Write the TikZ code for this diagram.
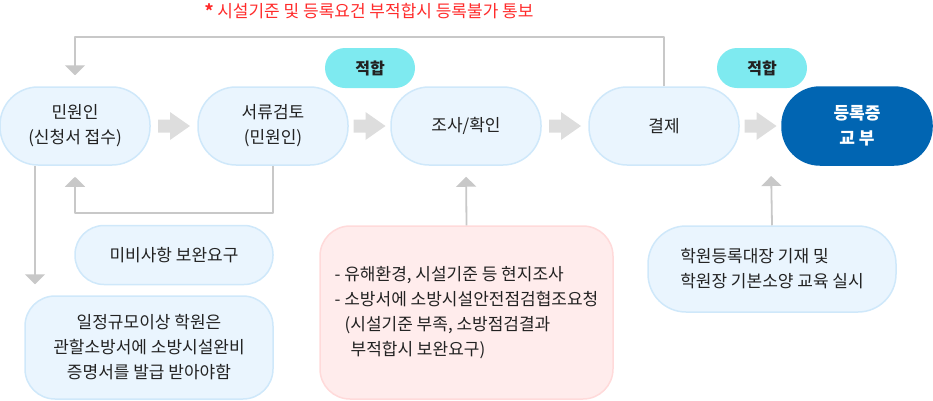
\documentclass[tikz,border=0pt]{standalone}
\usepackage{fontspec}
\setmainfont{Noto Sans CJK KR}
\usetikzlibrary{arrows.meta,calc}
\definecolor{pillfill}{HTML}{EAF5FE}
\definecolor{pillline}{HTML}{CFE8FA}
\definecolor{pinkfill}{HTML}{FFECEC}
\definecolor{pinkline}{HTML}{FFDADA}
\definecolor{fitfill}{HTML}{7EEAF0}
\definecolor{donefill}{HTML}{0165B2}
\definecolor{fbline}{HTML}{C8C8C8}
\definecolor{blockgray}{HTML}{DDDDDD}
\definecolor{notered}{HTML}{FF2B2B}
\definecolor{txt}{HTML}{222222}
\begin{document}
\begin{tikzpicture}[x=1pt, y=-1pt, font=\fontsize{17}{25}\selectfont, line join=round, >={Triangle[width=20pt,length=10pt]},
	pill/.style={draw=pillline, fill=pillfill, line width=1.5pt, rounded corners=38pt, minimum width=150pt, minimum height=78pt, align=center, text=txt, inner sep=0pt},
	pinkbox/.style={pill, draw=pinkline, fill=pinkfill, rounded corners=30pt},
	fitpill/.style={fill=fitfill, rounded corners=20pt, minimum width=90pt, minimum height=40pt, font=\fontsize{16}{25}\selectfont\bfseries, text=txt},
	blockarr/.pic={\fill[blockgray] (-16,-6.5) -- (-4,-6.5) -- (-4,-14) -- (16,0) -- (-4,14) -- (-4,6.5) -- (-16,6.5) -- cycle;},
	fb/.style={draw=fbline, line width=1.8pt, ->, shorten >=11pt}]
	\useasboundingbox (0,0) rectangle (933,400);
	\node[text=notered] (notice) at (369,11) {\textbf{*} 시설기준 및 등록요건 부적합시 등록불가 통보};
	\node[pill] (minwon) at (75,126) {민원인\\(신청서 접수)};
	\node[pill] (seoryu) at (273,126) {서류검토\\(민원인)};
	\node[pill] (josa) at (466,126) {조사/확인};
	\node[pill] (gyeolje) at (664,126) {결제};
	\node[pill, fill=donefill, draw=donefill, text=white, font=\fontsize{17}{25}\selectfont\bfseries] (deungrok) at (857,126) {등록증\\교 부};
	\node[fitpill] (jeokhap1) at (370,68) {적합};
	\node[fitpill] (jeokhap2) at (762,68) {적합};
	\pic at ($(minwon.east)!0.5!(seoryu.west)$) {blockarr};
	\pic at ($(seoryu.east)!0.5!(josa.west)$) {blockarr};
	\pic at ($(josa.east)!0.5!(gyeolje.west)$) {blockarr};
	\pic at ($(gyeolje.east)!0.5!(deungrok.west)$) {blockarr};
	\node[pill, minimum width=198pt, minimum height=59pt, rounded corners=29pt] (mibi) at (174,255) {미비사항 보완요구};
	\node[pill, minimum width=248pt, minimum height=103pt, rounded corners=30pt] (sobang) at (149,347.5) {일정규모이상 학원은\\관할소방서에 소방시설완비\\증명서를 발급 받아야함};
	\node[pinkbox, minimum width=293pt, minimum height=173pt, align=left] (hyunji) at (466.5,312.5) {- 유해환경, 시설기준 등 현지조사\\- 소방서에 소방시설안전점검협조요청\\\hspace*{10pt}(시설기준 부족, 소방점검결과\\\hspace*{16pt}부적합시 보완요구)};
	\node[pill, minimum width=248pt, minimum height=86pt, align=left] (gyoyuk) at (772,269) {학원등록대장 기재 및\\학원장 기본소양 교육 실시};
	\coordinate (gyoyukTip) at (771,165);
	\draw[fb] (gyeolje.north) -- (gyeolje.north |- 0,37) -| (minwon.north);
	\draw[fb] (seoryu.south) -- (seoryu.south |- 0,213) -| (minwon.south);
	\draw[fb] ([xshift=-40pt]minwon.south) -- ([xshift=-40pt]minwon.south |- sobang.north);
	\draw[fb] (hyunji.north) -- (josa.south);
	\draw[fb] (gyoyuk.north) -- (gyoyukTip);
\end{tikzpicture}
\end{document}
